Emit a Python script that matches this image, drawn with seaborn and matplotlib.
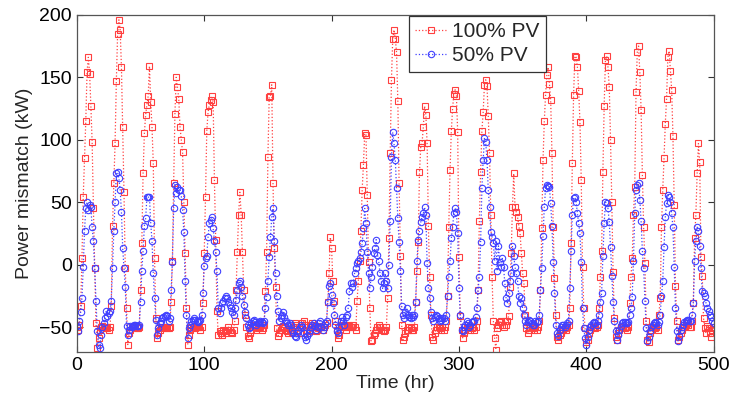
import numpy as np
import pandas as pd
import matplotlib
matplotlib.use("Agg")
import matplotlib.pyplot as plt
import seaborn as sns

sns.set_style("ticks")
plt.rcParams["font.family"] = ["Liberation Sans", "DejaVu Sans"]

# ----------------------------------------------------------
# hourly power mismatch (kW), one row per day (24 h)
# ----------------------------------------------------------
pv100_days = [
    [-50, -52, -48, -33, 5, 54, 85, 115, 154, 166, 153, 127, 98, 45, -3, -47, -67, -59, -52, -50, -49, -50, -50, -51],
    [-51, -52, -50, -33, 31, 65, 97, 147, 185, 196, 188, 158, 110, 58, -3, -35, -64, -55, -52, -50, -50, -49, -50, -51],
    [-51, -50, -20, 17, 73, 105, 120, 128, 135, 159, 130, 110, 81, 5, -43, -59, -55, -52, -50, -50, -51, -50, -50, -51],
    [-51, -50, -30, 3, 65, 121, 150, 142, 133, 110, 100, 90, 50, 9, -35, -64, -56, -52, -50, -50, -50, -51, -50, -50],
    [-50, -52, -50, -31, 9, 54, 107, 122, 128, 132, 135, 130, 68, 20, -37, -56, -53, -55, -56, -52, -53, -55, -52, -50],
    [-52, -54, -55, -52, -45, -20, 10, 40, 58, 40, 10, -20, -40, -50, -57, -59, -55, -52, -50, -48, -50, -52, -51, -50],
    [-50, -52, -51, -48, -21, 10, 86, 134, 135, 144, 65, 13, -18, -51, -57, -55, -52, -50, -49, -51, -52, -53, -55, -52],
    [-52, -54, -50, -47, -48, -50, -53, -55, -50, -47, -45, -48, -52, -55, -53, -50, -48, -47, -50, -52, -53, -51, -49, -50],
    [-50, -52, -50, -48, -47, -30, -7, 22, 13, -13, -29, -45, -52, -59, -56, -50, -48, -49, -50, -52, -50, -48, -49, -50],
    [-50, -48, -50, -52, -29, -13, 3, 27, 60, 80, 105, 104, 56, 2, -35, -61, -60, -56, -55, -52, -50, -48, -50, -52],
    [-52, -53, -52, -50, -27, 21, 89, 148, 181, 188, 181, 170, 131, 65, 7, -48, -60, -58, -55, -52, -52, -50, -51, -52],
    [-52, -50, -30, -5, 18, 74, 94, 97, 110, 127, 120, 97, 31, -10, -40, -58, -60, -55, -52, -50, -50, -51, -52, -50],
    [-52, -50, -45, -25, 30, 76, 107, 125, 137, 140, 135, 106, 6, -41, -52, -59, -55, -52, -50, -48, -50, -52, -51, -50],
    [-52, -50, -45, -20, 35, 74, 107, 122, 144, 148, 143, 119, 89, 40, -10, -45, -59, -68, -51, -48, -46, -45, -48, -50],
    [-45, -48, -45, -41, -18, 9, 46, 73, 46, 42, 38, 31, 25, 9, -7, -15, -40, -51, -55, -52, -50, -50, -51, -52],
    [-50, -52, -50, -45, -20, 29, 84, 115, 136, 152, 158, 145, 132, 89, 30, -11, -40, -58, -60, -56, -55, -52, -52, -51],
    [-52, -50, -48, -35, 17, 81, 136, 167, 166, 158, 139, 114, 68, -2, -35, -51, -62, -60, -55, -52, -50, -50, -50, -51],
    [-50, -48, -35, -10, 11, 74, 127, 164, 167, 158, 142, 100, 50, -6, -43, -58, -60, -55, -52, -50, -50, -50, -51, -50],
    [-52, -50, -31, -10, 5, 40, 62, 138, 170, 175, 154, 124, 72, 30, 1, -45, -60, -62, -55, -52, -50, -50, -51, -50],
    [-52, -40, -27, 30, 60, 85, 113, 133, 166, 171, 155, 140, 103, 48, -17, -45, -60, -58, -55, -52, -50, -50, -48, -47],
    [-48, -50, -50, -45, -31, 21, 40, 73, 97, 82, 6, -9, -43, -51, -55, -49, -51, -55, -58, -52, -50],
]

pv50_days = [
    [-49, -53, -45, -38, -27, -2, 27, 45, 50, 44, 48, 46, 30, 19, -3, -29, -53, -64, -67, -56, -50, -47, -43, -37],
    [-41, -39, -37, -29, -3, 27, 50, 73, 74, 69, 60, 42, 13, -3, -18, -49, -56, -52, -49, -50, -49, -48, -48, -49],
    [-49, -48, -30, -5, 11, 31, 37, 54, 54, 54, 33, 19, -7, -27, -44, -56, -51, -47, -45, -43, -42, -41, -40, -41],
    [-45, -43, -20, 2, 45, 64, 57, 62, 60, 60, 55, 44, 26, -13, -40, -59, -51, -48, -45, -44, -43, -44, -45, -46],
    [-45, -44, -40, -23, -1, 5, 7, 22, 33, 36, 38, 29, 19, 10, -5, -35, -39, -35, -31, -29, -27, -25, -27, -30],
    [-32, -35, -38, -40, -35, -28, -20, -15, -13, -18, -25, -32, -38, -43, -48, -51, -50, -47, -45, -44, -46, -48, -47, -46],
    [-45, -46, -47, -45, -35, -26, -13, 6, 22, 38, 45, 19, -7, -25, -37, -45, -43, -40, -38, -42, -45, -47, -48, -47],
    [-48, -52, -55, -57, -58, -55, -52, -50, -48, -50, -55, -58, -60, -57, -55, -52, -50, -48, -47, -49, -52, -50, -47, -45],
    [-50, -52, -50, -47, -45, -30, -17, -15, -24, -31, -40, -48, -53, -55, -50, -45, -42, -45, -48, -42, -40, -35, -21, -15],
    [-18, -15, -7, -3, 1, 3, 5, 10, 17, 29, 45, 33, 10, -7, -19, -10, -2, 9, 13, 20, 8, 3, -7, -13],
    [-19, -15, -7, -13, -19, 0, 35, 86, 106, 97, 84, 61, 37, 18, -5, -33, -40, -43, -38, -35, -40, -42, -43, -40],
    [-42, -40, -30, 3, 20, 27, 34, 38, 41, 46, 40, 1, -19, -27, -38, -43, -45, -42, -40, -41, -43, -45, -44, -43],
    [-43, -45, -40, -25, -10, 3, 21, 30, 41, 45, 42, 25, -19, -40, -52, -53, -50, -48, -45, -47, -50, -48, -46, -45],
    [-45, -42, -35, -20, -10, 18, 61, 84, 101, 98, 84, 60, 46, 26, 22, 17, 3, 19, -5, 15, 2, -2, 5, -2],
    [-15, -27, -31, -23, -13, -7, 15, 7, -2, -7, -13, -25, -31, -27, -35, -40, -45, -48, -46, -44, -45, -47, -48, -48],
    [-45, -46, -45, -40, -20, -3, 23, 46, 61, 64, 63, 62, 49, 31, 2, -23, -48, -55, -57, -52, -50, -48, -48, -50],
    [-48, -47, -45, -19, 11, 40, 53, 54, 50, 41, 33, 25, 2, -35, -51, -59, -64, -58, -52, -50, -48, -47, -46, -47],
    [-48, -45, -40, -30, -23, 7, 33, 50, 49, 45, 34, 14, -9, -30, -45, -53, -60, -56, -52, -49, -47, -46, -46, -47],
    [-47, -46, -40, -35, -26, 3, 41, 60, 64, 65, 52, 35, 11, -3, -29, -51, -61, -58, -53, -50, -48, -47, -46, -47],
    [-48, -46, -40, -25, -13, 14, 38, 49, 56, 54, 50, 41, 30, -2, -35, -53, -61, -57, -52, -50, -48, -46, -45, -44],
    [-44, -45, -45, -40, -31, 3, 19, 30, 27, 15, -3, -21, -23, -25, -31, -35, -37, -40, -42, -45, -47],
]

pv100 = [v for day in pv100_days for v in day]
pv50 = [v for day in pv50_days for v in day]
hours = np.arange(len(pv100))

df = pd.DataFrame({"hora": hours, "pv100": pv100, "pv50": pv50})

# ----------------------------------------------------------
# figure
# ----------------------------------------------------------
fig = plt.figure(figsize=(7.32, 4.01), dpi=100)
ax = fig.add_axes([0.105, 0.122, 0.870, 0.841])

sns.lineplot(data=df, x="hora", y="pv100", ax=ax, color="#ff4040",
             linestyle=":", linewidth=0.9, marker="s", markersize=4.6,
             markerfacecolor="none", markeredgecolor="#ff4040",
             markeredgewidth=0.8, label="100% PV")
sns.lineplot(data=df, x="hora", y="pv50", ax=ax, color="#4040ff",
             linestyle=":", linewidth=0.9, marker="o", markersize=4.6,
             markerfacecolor="none", markeredgecolor="#4040ff",
             markeredgewidth=0.8, label="50% PV")

ax.set_xlim(0, 500)
ax.set_ylim(-70, 200)
ax.set_xticks([0, 100, 200, 300, 400, 500])
ax.set_yticks([-50, 0, 50, 100, 150, 200])
ax.tick_params(direction="in", top=True, right=True, labelsize=14,
               length=4, width=0.8, colors="#333333", labelcolor="black")
for s in ax.spines.values():
    s.set_color("#555555")
    s.set_linewidth(0.9)

ax.set_xlabel("Time (hr)", fontsize=14, labelpad=1)
ax.set_ylabel("Power mismatch (kW)", fontsize=14, labelpad=4)

leg = ax.legend(loc="upper left", bbox_to_anchor=(0.521, 0.997), fontsize=15,
                frameon=True, fancybox=False, framealpha=1, edgecolor="#333333",
                handlelength=1.5, handletextpad=0.3, borderpad=0.3,
                labelspacing=0.25, borderaxespad=0)
leg.get_frame().set_linewidth(0.9)

fig.savefig("out.png", dpi=100)
